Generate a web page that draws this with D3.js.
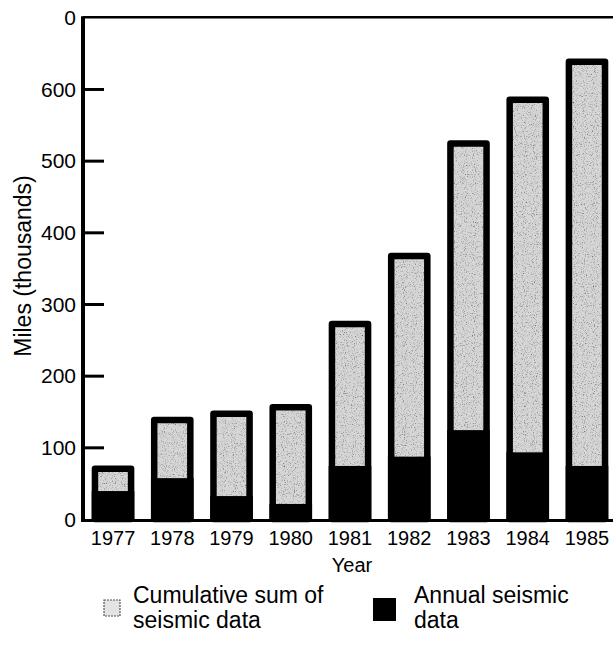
<!DOCTYPE html>
<html>
<head>
<meta charset="utf-8">
<script src="https://cdn.jsdelivr.net/npm/d3@7/dist/d3.min.js"></script>
<style>
  html, body { margin: 0; padding: 0; background: #fff; }
  svg { display: block; }
  text { font-family: "Liberation Sans", Arial, Helvetica, sans-serif; fill: #000; }
</style>
</head>
<body>
<svg id="chart" width="613" height="646"></svg>
<script>
// ---- data ----
const years = ["1977","1978","1979","1980","1981","1982","1983","1984","1985"];
const cumulative = [70, 138, 147, 156, 272, 367, 524, 585, 638];
const annual = [39, 57, 32, 21, 74, 87, 124, 93, 74];
const yTickValues = [0, 100, 200, 300, 400, 500, 600, 700];
const yTickLabels = ["0", "100", "200", "300", "400", "500", "600", "0"];
const xTitle = "Year";
const yTitle = "Miles (thousands)";
const legendLabels = [["Cumulative sum of", "seismic data"], ["Annual seismic", "data"]];

// ---- layout ----
const svg = d3.select("#chart");
const axisX = 83;
const x = d3.scaleBand().domain(years).range([83.4, 616.6]).paddingInner(0.39).paddingOuter(0.195);
const y = d3.scaleLinear().domain([0, 700]).range([519, 17.3]);
const sw = 6.5;
const grey = "#d6d6d6";

// texture filter for stippled grey
const defs = svg.append("defs");
const f = defs.append("filter").attr("id", "stipple").attr("x", 0).attr("y", 0).attr("width", 1).attr("height", 1);
f.append("feTurbulence").attr("type", "fractalNoise").attr("baseFrequency", 0.9).attr("numOctaves", 2).attr("seed", 3).attr("result", "noise");
f.append("feColorMatrix").attr("in", "noise").attr("type", "matrix")
  .attr("values", "0 0 0 0 0  0 0 0 0 0  0 0 0 0 0  -2.2 0 0 0 1.05")
  .attr("result", "dots");
f.append("feComposite").attr("in", "dots").attr("in2", "SourceGraphic").attr("operator", "in").attr("result", "dotsIn");
f.append("feMerge").selectAll("feMergeNode").data(["SourceGraphic", "dotsIn"]).join("feMergeNode").attr("in", d => d);

// ---- bars ----
const bars = svg.append("g");
years.forEach((yr, i) => {
  const bx = x(yr), bw = x.bandwidth();
  bars.append("rect")
    .attr("x", bx).attr("y", y(cumulative[i]))
    .attr("width", bw).attr("height", y(0) - y(cumulative[i]))
    .attr("fill", grey).attr("filter", "url(#stipple)");
  bars.append("rect")
    .attr("x", bx).attr("y", y(cumulative[i]))
    .attr("width", bw).attr("height", y(0) - y(cumulative[i]))
    .attr("fill", "none").attr("stroke", "#000").attr("stroke-width", sw)
    .attr("stroke-linejoin", "round");
  bars.append("rect")
    .attr("x", bx - sw / 2).attr("y", y(annual[i]))
    .attr("width", bw + sw).attr("height", y(0) - y(annual[i]) + 1)
    .attr("fill", "#000");
});

// ---- axes ----
svg.append("line").attr("x1", axisX).attr("x2", 613).attr("y1", y(700)).attr("y2", y(700))
  .attr("stroke", "#000").attr("stroke-width", 2.5);
svg.append("line").attr("x1", axisX).attr("x2", 613).attr("y1", y(0) + 1.5).attr("y2", y(0) + 1.5)
  .attr("stroke", "#000").attr("stroke-width", 3);

const yAxis = d3.axisRight(y).tickValues(yTickValues.slice(1, 7)).tickSize(21).tickFormat("");
const gy = svg.append("g").attr("transform", `translate(${axisX},0)`).call(yAxis);
gy.select(".domain").remove();
gy.selectAll(".tick line").attr("stroke", "#000").attr("stroke-width", 3);
svg.append("line").attr("x1", axisX).attr("x2", axisX).attr("y1", y(700) - 1).attr("y2", y(0) + 3)
  .attr("stroke", "#000").attr("stroke-width", 4);

svg.append("g").selectAll("text").data(yTickValues).join("text")
  .attr("x", 76).attr("y", d => y(d))
  .attr("dy", "0.36em")
  .attr("text-anchor", "end").attr("font-size", 21)
  .text((d, i) => yTickLabels[i]);

svg.append("g").selectAll("text").data(years).join("text")
  .attr("x", d => x(d) + x.bandwidth() / 2).attr("y", 545)
  .attr("text-anchor", "middle").attr("font-size", 20)
  .text(d => d);

svg.append("text").attr("x", 352).attr("y", 572).attr("text-anchor", "middle")
  .attr("font-size", 20).text(xTitle);

svg.append("text").attr("transform", "translate(31,266) rotate(-90)")
  .attr("text-anchor", "middle").attr("font-size", 23).text(yTitle);

// ---- legend ----
const lg = svg.append("g");
lg.append("rect").attr("x", 104).attr("y", 600).attr("width", 16).attr("height", 16)
  .attr("fill", "#e4e4e4").attr("stroke", "#555").attr("stroke-width", 1.2).attr("stroke-dasharray", "2,1");
lg.append("rect").attr("x", 373).attr("y", 598).attr("width", 23).attr("height", 23).attr("fill", "#000");
[[133, legendLabels[0]], [414, legendLabels[1]]].forEach(([lx, lines]) => {
  lines.forEach((t, j) => {
    lg.append("text").attr("x", lx).attr("y", 603 + j * 25).attr("font-size", 23).text(t);
  });
});
</script>
</body>
</html>
